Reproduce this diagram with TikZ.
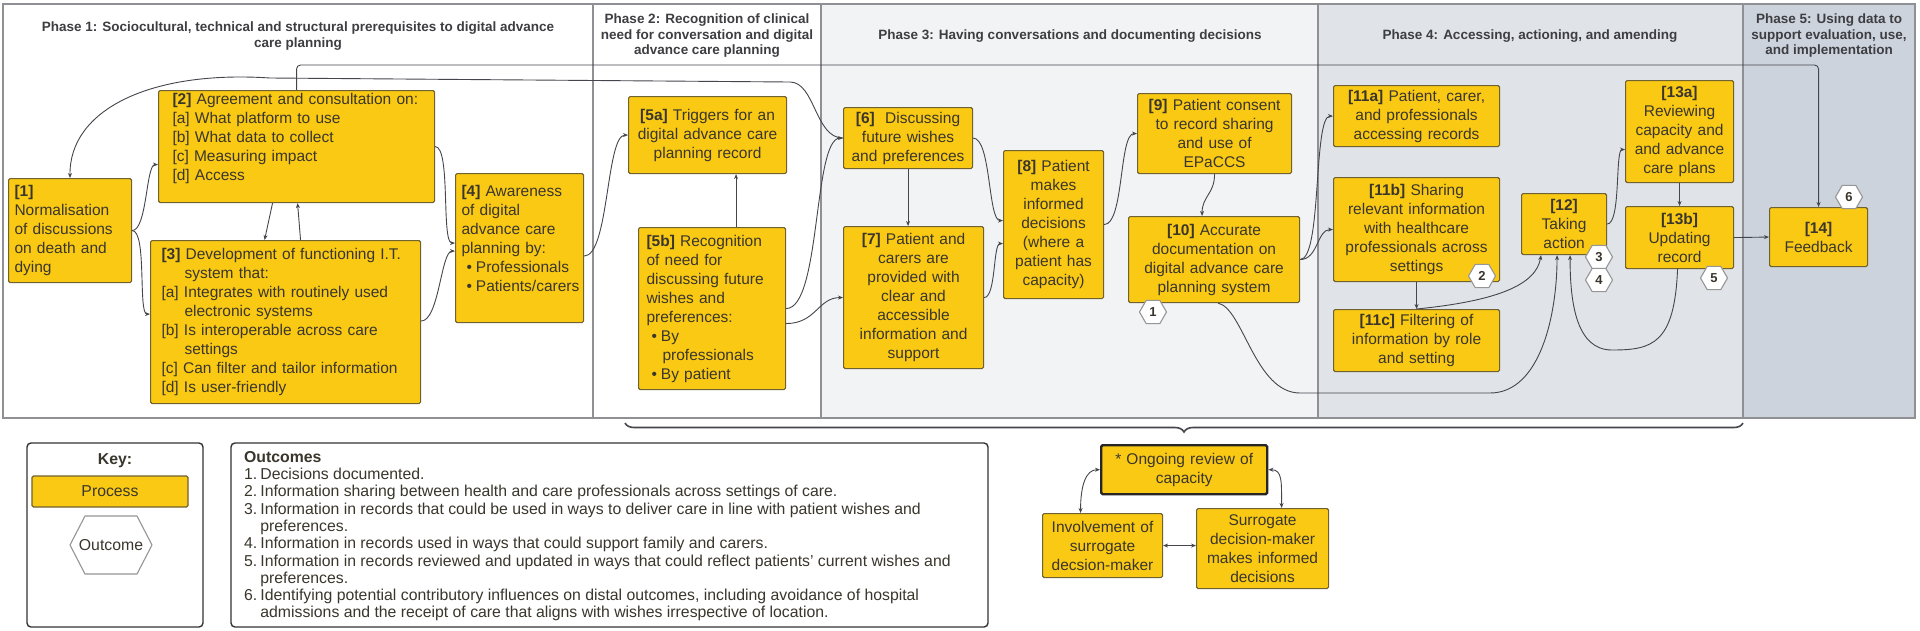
\documentclass[tikz,border=0pt]{standalone}
\usepackage{fontspec}
\setmainfont{Liberation Sans}
\usetikzlibrary{shapes.geometric,arrows.meta,decorations.pathreplacing}

\definecolor{procfill}{RGB}{250,201,20}
\definecolor{procline}{RGB}{112,98,48}
\definecolor{txtcol}{RGB}{58,54,44}
\definecolor{lncol}{RGB}{68,70,76}
\definecolor{phaseline}{RGB}{142,144,148}
\definecolor{phasethree}{RGB}{242,243,245}
\definecolor{phasefour}{RGB}{224,227,232}
\definecolor{phasefive}{RGB}{204,211,221}
\definecolor{hexline}{RGB}{150,150,150}
\definecolor{titlecol}{RGB}{62,62,66}

\newcommand{\nodefont}{\fontsize{15.5}{19}\selectfont}
\newcommand{\keyfont}{\fontsize{15.8}{17.3}\selectfont}

\begin{document}
\begin{tikzpicture}[x=1pt,y=-1pt,
  proc/.style={draw=procline,fill=procfill,line width=1.1pt,rounded corners=1.5pt,
    text=txtcol,font=\nodefont,inner sep=0pt,anchor=north west},
  procl/.style={proc,align=left},
  procc/.style={proc,align=center},
  outc/.style={regular polygon,regular polygon sides=6,draw=hexline,fill=white,
    line width=1.1pt,minimum size=27pt,inner sep=0pt,text=txtcol,
    font=\bfseries\fontsize{13}{13}\selectfont},
  phase/.style={draw=phaseline,line width=1.3pt},
  ptitle/.style={font=\bfseries\fontsize{13.5}{15.5}\selectfont,text=titlecol,align=center},
  conn/.style={draw=lncol,line width=0.9pt,-{Stealth[length=5pt,width=4pt]}},
  both/.style={draw=lncol,line width=0.9pt,{Stealth[length=5pt,width=4pt]}-{Stealth[length=5pt,width=4pt]}},
  panel/.style={draw=black!80,line width=1.4pt,rounded corners=4pt,fill=white}
]

  \useasboundingbox (0,0) rectangle (1920,630);
  \fill[white] (0,0) rectangle (1920,630);

  \draw[phase] (3,4) rectangle (593,418);
  \draw[phase] (593,4) rectangle (821,418);
  \draw[phase,fill=phasethree] (821,4) rectangle (1318,418);
  \draw[phase,fill=phasefour] (1318,4) rectangle (1743,418);
  \draw[phase,fill=phasefive] (1743,4) rectangle (1915,418);

  \draw (298,36) node[ptitle] (t1) {Phase 1: Sociocultural, technical and structural prerequisites to digital advance\\care planning};
  \draw (707,36) node[ptitle] (t2) {Phase 2: Recognition of clinical\\need for conversation and digital\\advance care planning};
  \draw (1070,36) node[ptitle] (t3) {Phase 3: Having conversations and documenting decisions};
  \draw (1530,36) node[ptitle] (t4) {Phase 4: Accessing, actioning, and amending};
  \draw (1829,36) node[ptitle] (t5) {Phase 5: Using data to\\support evaluation, use,\\and implementation};

  \draw (8,178) node[procl,minimum width=123pt,minimum height=104pt,text width=111pt] (n1)
    {\textbf{[1]}\\Normalisation\\of discussions\\on death and\\dying};
  \draw (158,90) node[procl,minimum width=276pt,minimum height=112pt,text width=248pt] (n2)
    {\textbf{[2]} Agreement and consultation on:\\{}[a] What platform to use\\{}[b] What data to collect\\{}[c] Measuring impact\\{}[d] Access\\\rule{0pt}{8pt}};
  \draw (150,240) node[procl,minimum width=270pt,minimum height=163pt,text width=248pt] (n3)
    {\textbf{[3]} Development of functioning I.T.\\\hspace*{23pt}system that:\\{}[a] Integrates with routinely used\\\hspace*{23pt}electronic systems\\{}[b] Is interoperable across care\\\hspace*{23pt}settings\\{}[c] Can filter and tailor information\\{}[d] Is user-friendly};
  \draw (455,173) node[procl,minimum width=128pt,minimum height=149pt,text width=116pt] (n4)
    {\textbf{[4]} Awareness\\of digital\\advance care\\planning by:\\\mbox{\hspace*{5pt}\textbullet\hspace{4pt}Professionals}\\\mbox{\hspace*{5pt}\textbullet\hspace{4pt}Patients/carers}\\\rule{0pt}{12pt}};

  \draw (628,96) node[procc,minimum width=158pt,minimum height=77pt,text width=152pt] (n5a)
    {\textbf{[5a]} Triggers for an\\digital advance care\\planning record};
  \draw (638,227) node[procl,minimum width=147pt,minimum height=162pt,text width=131pt] (n5b)
    {\textbf{[5b]} Recognition\\of need for\\discussing future\\wishes and\\preferences:\\\mbox{\hspace*{5pt}\textbullet\hspace{4pt}By}\\\hspace*{16pt}professionals\\\mbox{\hspace*{5pt}\textbullet\hspace{4pt}By patient}};

  \draw (843,107) node[procc,minimum width=129pt,minimum height=61pt,text width=123pt] (n6)
    {\textbf{[6]}\ \ Discussing\\future wishes\\and preferences};
  \draw (843,226) node[procc,minimum width=140pt,minimum height=142pt,text width=134pt] (n7)
    {\textbf{[7]} Patient and\\carers are\\provided with\\clear and\\accessible\\information and\\support};
  \draw (1003,150) node[procc,minimum width=100pt,minimum height=148pt,text width=94pt] (n8)
    {\textbf{[8]} Patient\\makes\\informed\\decisions\\(where a\\patient has\\capacity)};
  \draw (1137,93) node[procc,minimum width=154pt,minimum height=80pt,text width=148pt] (n9)
    {\textbf{[9]} Patient consent\\to record sharing\\and use of\\EPaCCS};
  \draw (1128,216) node[procc,minimum width=171pt,minimum height=86pt,text width=165pt] (n10)
    {\textbf{[10]} Accurate\\documentation on\\digital advance care\\planning system};

  \draw (1333,85) node[procc,minimum width=166pt,minimum height=61pt,text width=160pt] (n11a)
    {\textbf{[11a]} Patient, carer,\\and professionals\\accessing records};
  \draw (1333,177) node[procc,minimum width=166pt,minimum height=104pt,text width=160pt] (n11b)
    {\textbf{[11b]} Sharing\\relevant information\\with healthcare\\professionals across\\settings};
  \draw (1333,309) node[procc,minimum width=166pt,minimum height=62pt,text width=160pt] (n11c)
    {\textbf{[11c]} Filtering of\\information by role\\and setting};
  \draw (1521,193) node[procc,minimum width=85pt,minimum height=61pt,text width=79pt] (n12)
    {\textbf{[12]}\\Taking\\action};
  \draw (1625,80) node[procc,minimum width=108pt,minimum height=102pt,text width=102pt] (n13a)
    {\textbf{[13a]}\\Reviewing\\capacity and\\and advance\\care plans};
  \draw (1625,206) node[procc,minimum width=108pt,minimum height=62pt,text width=102pt] (n13b)
    {\textbf{[13b]}\\Updating\\record};
  \draw (1769,207) node[procc,minimum width=98pt,minimum height=59pt,text width=92pt] (n14)
    {\textbf{[14]}\\Feedback};

  \draw (1153,312) node[outc] (o1) {1};
  \draw (1482,276) node[outc] (o2) {2};
  \draw (1599,257) node[outc] (o3) {3};
  \draw (1599,280) node[outc] (o4) {4};
  \draw (1714,278) node[outc] (o5) {5};
  \draw (1849,197) node[outc] (o6) {6};

  \draw[conn] (n1.east) .. controls +(15,0) and +(-12,0) .. ([yshift=-18pt]n2.west);
  \draw[conn] (n1.east) .. controls +(15,0) and +(-12,0) .. ([yshift=8pt]n3.west);
  \draw[conn] ([xshift=-24pt]n2.south) -- ([xshift=-21pt]n3.north);
  \draw[conn] ([xshift=15pt]n3.north) -- ([xshift=1pt]n2.south);
  \draw[conn] (n2.east) .. controls +(16,0) and +(-14,0) .. ([yshift=5pt]n4.west);
  \draw[conn] ([yshift=1pt]n3.east) .. controls +(18,0) and +(-14,0) .. ([yshift=-3pt]n4.west);
  \draw[conn] ([yshift=-8pt]n4.east) .. controls +(25,0) and +(-22,0) .. (n5a.west);
  \draw[conn] ([xshift=24pt]n5b.north) -- ([xshift=24pt]n5b.north |- n5a.south);
  \draw[conn] (n5b.east) .. controls +(35,0) and +(-30,0) .. (n6.west);
  \draw[conn] ([yshift=-15pt]n5b.east) .. controls +(30,0) and +(-25,0) .. (n7.west);
  \draw[conn] (n6.south) -- (n6.south |- n7.north);
  \draw[conn] (n6.east) .. controls +(18,0) and +(-15,0) .. ([yshift=4pt]n8.west);
  \draw[conn] (n7.east) .. controls +(12,0) and +(-10,0) .. ([yshift=-19pt]n8.west);
  \draw[conn] (n8.east) .. controls +(20,0) and +(-18,0) .. (n9.west);
  \draw[conn] (n9.south) .. controls +(0,20) and +(0,-20) .. ([xshift=-12pt]n10.north);
  \draw[conn] (n10.east) .. controls +(22,0) and +(-20,0) .. (n11a.west);
  \draw[conn] (n10.east) .. controls +(18,0) and +(-16,0) .. (n11b.west);
  \draw[conn] (n11b.south) -- (n11b.south |- n11c.north);
  \draw[conn] (n11c.north) .. controls +(80,-8) and +(-5,30) .. ([xshift=-23pt]n12.south);
  \draw[conn] ([xshift=4pt]n10.south) .. controls +(25,5) and +(-45,0) .. (1300,393) -- (1490,393)
    .. controls +(50,0) and +(0,60) .. ([xshift=-7pt]n12.south);
  \draw[conn] ([xshift=-2pt]n13b.south) .. controls +(-3,75) and +(40,0) .. (1612,350)
    .. controls +(-35,0) and +(0,50) .. ([xshift=6pt]n12.south);
  \draw[conn] (n12.east) .. controls +(14,0) and +(-10,0) .. ([yshift=-18pt]n13a.west);
  \draw[conn] (n13a.south) -- (n13b.north);
  \draw[conn] (n13b.east) -- (n14.west);
  \draw[conn,rounded corners=4pt] (n2.north) -- ++(0,-25) -| (n14.north);
  \draw[conn] (n6.west) .. controls +(-28,0) and +(25,0) .. (790,82) -- (270,78)
    .. controls (150,70) and (69,110) .. (n1.north);

  \draw[decorate,decoration={brace,amplitude=9pt,mirror},draw=lncol,line width=1.6pt] (625,423) -- (1743,423);

  \draw (1100,444) node[procc,draw=black!85,line width=2.4pt,minimum width=166pt,minimum height=49pt,text width=160pt] (review)
    {* Ongoing review of\\capacity};
  \draw (1042,513) node[procc,minimum width=120pt,minimum height=64pt,text width=114pt] (involve)
    {Involvement of\\surrogate\\decsion-maker};
  \draw (1196,508) node[procc,minimum width=132pt,minimum height=80pt,text width=126pt] (surr)
    {Surrogate\\decision-maker\\makes informed\\decisions};

  \draw[both] ([xshift=-22pt]involve.north) .. controls +(0,-28) and +(-14,0) .. (review.west);
  \draw[both] (review.east) .. controls +(14,0) and +(0,-26) .. ([xshift=19pt]surr.north);
  \draw[both] (involve.east) -- (involve.east -| surr.west);

  \draw[panel] (27,443) rectangle (203,627);
  \draw (115,461) node[font=\keyfont\bfseries,text=txtcol] (keyhead) {Key:};
  \draw (110,491.5) node[proc,anchor=center,minimum width=156pt,minimum height=31pt,font=\keyfont] (keyproc) {Process};
  \draw[draw=hexline,line width=1.1pt,fill=white] (70,545) -- (85,516) -- (137,516) -- (152,545) -- (137,574) -- (85,574) -- cycle;
  \draw (111,545) node[font=\keyfont,text=txtcol] (keyout) {Outcome};

  \draw[panel] (231,443) rectangle (988,627);
  \draw (244,451) node[anchor=north west,align=left,font=\keyfont,text=txtcol,inner sep=0pt] (outlist)
    {\textbf{Outcomes}\\
    1.\hspace{3pt}Decisions documented.\\
    2.\hspace{3pt}Information sharing between health and care professionals across settings of care.\\
    3.\hspace{3pt}Information in records that could be used in ways to deliver care in line with patient wishes and\\
    \hspace*{16.2pt}preferences.\\
    4.\hspace{3pt}Information in records used in ways that could support family and carers.\\
    5.\hspace{3pt}Information in records reviewed and updated in ways that could reflect patients’ current wishes and\\
    \hspace*{16.2pt}preferences.\\
    6.\hspace{3pt}Identifying potential contributory influences on distal outcomes, including avoidance of hospital\\
    \hspace*{16.2pt}admissions and the receipt of care that aligns with wishes irrespective of location.};

\end{tikzpicture}
\end{document}
